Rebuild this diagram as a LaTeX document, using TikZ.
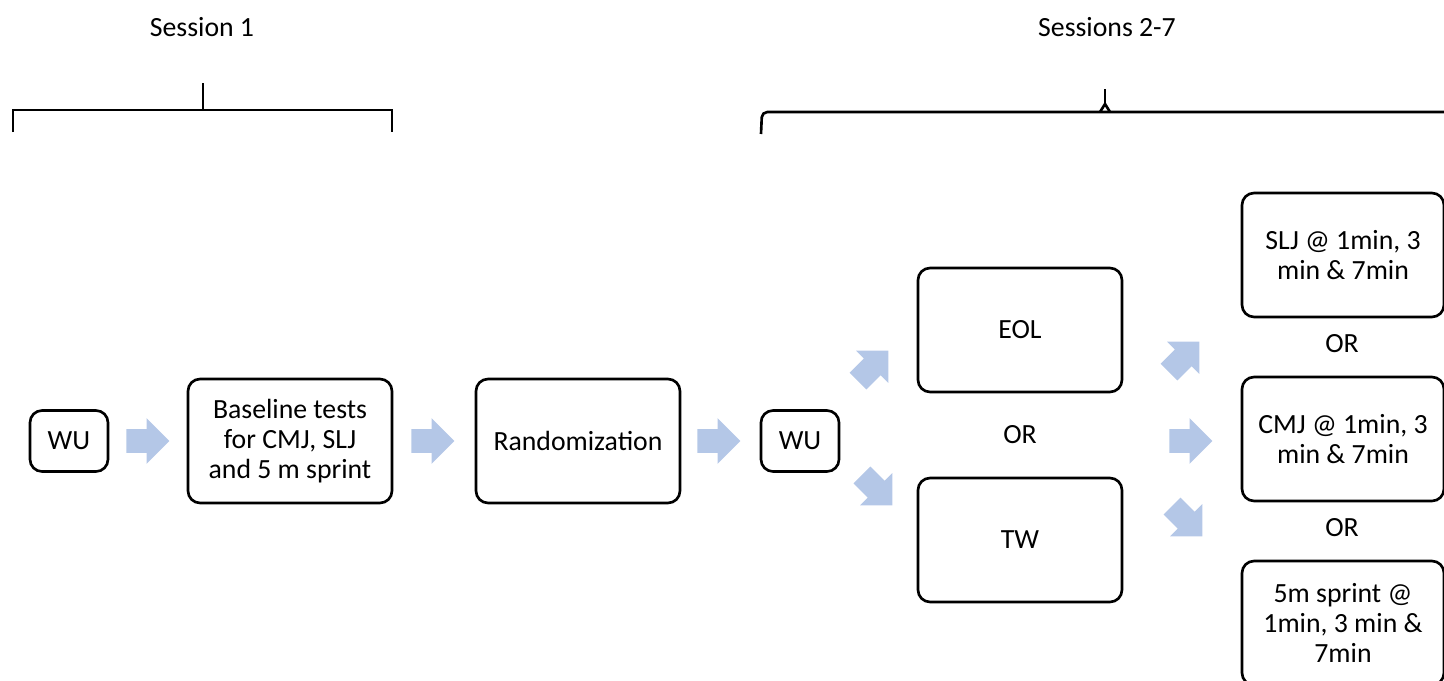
\documentclass[tikz,border=0pt]{standalone}
\usepackage{fontspec}
\setmainfont{Carlito}
\usetikzlibrary{shapes.arrows}

\definecolor{flowblue}{RGB}{180,199,231}
\newcommand{\stagefont}{\fontsize{15.8}{17}\selectfont}

\tikzset{
  stage/.style={draw, line width=1.5pt, rounded corners=0.24cm, align=center,
    minimum width=4.08cm, minimum height=2.48cm, inner sep=2pt, font=\stagefont},
  wu/.style={stage, minimum width=1.56cm, minimum height=1.22cm},
  label/.style={font=\stagefont, inner sep=0pt},
  flow/.style={single arrow, fill=flowblue, draw=none, inner sep=0.23cm,
    minimum height=0.86cm, single arrow head extend=0.22cm},
  bracket/.style={line width=1.5pt}
}

\begin{document}
\begin{tikzpicture}[x=0.02cm, y=-0.02cm]
  \clip (0,0) rectangle (1444,680);

  % session headings and brackets
  \node [label] (s1) at (202,27) {Session 1};
  \node [label] (s27) at (1107,27) {Sessions 2-7};

  \draw [bracket] (13,132) -- (13,110) -- (392,110) -- (392,132);
  \draw [bracket] (203,110) -- (203,83);

  \draw [bracket, rounded corners=3pt] (761,134) -- (762,112) -- (1450,112);
  \draw [bracket] (1100,112) -- (1105,104) -- (1110,112);
  \draw [bracket] (1105,104) -- (1105,89);

  % session 1
  \node [wu] (wu1) at (69,441) {WU};
  \node [stage] (base) at (290,441) {Baseline tests\\for CMJ, SLJ\\and 5 m sprint};
  \node [stage] (rand) at (578,441) {Randomization};

  \node [flow] (f1) at (142,441) {};
  \node [flow] (f2) at (427,441) {};
  \node [flow] (f3) at (713,441) {};

  % sessions 2-7
  \node [wu] (wu2) at (800,441) {WU};
  \node [stage] (eol) at (1020,330) {EOL};
  \node [stage] (tw) at (1020,540) {TW};
  \node [label] (or1) at (1020,435) {OR};

  \node [flow, rotate=45] (f4) at (869,370) {};
  \node [flow, rotate=-45] (f5) at (873,486) {};

  \node [stage, minimum width=4.04cm] (slj) at (1343,255) {SLJ @ 1min, 3\\min \& 7min};
  \node [stage, minimum width=4.04cm] (cmj) at (1343,439) {CMJ @ 1min, 3\\min \& 7min};
  \node [stage, minimum width=4.04cm] (spr) at (1343,623) {5m sprint @\\1min, 3 min \&\\7min};
  \node [label] (or2) at (1342,344) {OR};
  \node [label] (or3) at (1342,528) {OR};

  \node [flow, rotate=45] (f6) at (1180,361) {};
  \node [flow] (f7) at (1185,441) {};
  \node [flow, rotate=-45] (f8) at (1183,517) {};
\end{tikzpicture}
\end{document}
